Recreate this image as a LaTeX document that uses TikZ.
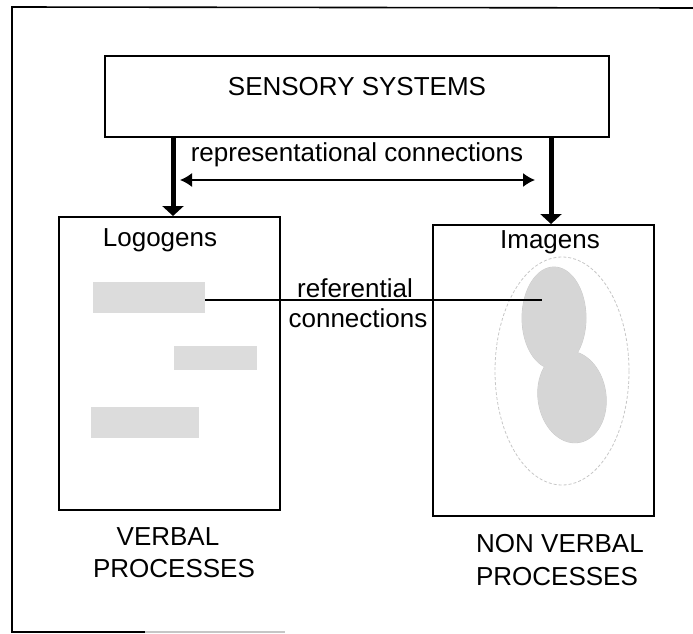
\documentclass[tikz,border=0pt]{standalone}
\usepackage{fontspec}
\setmainfont{Liberation Sans}
\usetikzlibrary{arrows.meta}
\definecolor{shade}{HTML}{DCDCDC}
\definecolor{blobgray}{HTML}{D6D6D6}
\definecolor{blobedge}{HTML}{C8C8C8}
\definecolor{halo}{HTML}{C6C6C6}
\begin{document}
\begin{tikzpicture}[x=1pt,y=-1pt,
  lbl/.style={font=\fontsize{26}{31}\selectfont, inner sep=0pt},
  box/.style={draw, line width=1.6pt, inner sep=0pt, anchor=north west},
  wordbar/.style={fill=shade, inner sep=0pt, anchor=north west},
  feed/.style={line width=5pt, -{Triangle[width=21pt,length=10pt]}},
  link/.style={line width=1.5pt, {Latex[width=14pt,length=12pt]}-{Latex[width=14pt,length=12pt]}},
  reflink/.style={line width=1.4pt}]
\useasboundingbox (0,0) rectangle (693,634);

% outer frame (open on the right)
\draw[line width=1.6pt] (693,8) -- (12,7) -- (12,632) -- (145,632);
\draw[line width=1.2pt, halo] (145,632) -- (285,632);

% sensory systems
\node[box, minimum width=504pt, minimum height=81pt] (sens) at (104,55) {};
\node[lbl] (senstext) at (357,87) {SENSORY SYSTEMS};

% verbal and non-verbal subsystems
\node[box, minimum width=221pt, minimum height=293pt] (verbal) at (58,216) {};
\node[box, minimum width=221pt, minimum height=291pt] (nonverbal) at (432,224) {};

% feed arrows
\coordinate (aL) at (173,0);
\coordinate (aR) at (551,0);
\draw[feed] (aL |- sens.south) -- (aL |- verbal.north);
\draw[feed] (aR |- sens.south) -- (aR |- nonverbal.north);

% representational connections
\coordinate (repL) at (180,180);
\coordinate (repR) at (535,180);
\draw[link] (repL) -- (repR);
\node[lbl] (replabel) at (357,155) {representational connections};

% logogens
\node[lbl] (logo) at (160,240) {Logogens};
\node[wordbar, minimum width=112pt, minimum height=31pt] (w1) at (93,282) {};
\node[wordbar, minimum width=83pt, minimum height=24pt] (w2) at (174,346) {};
\node[wordbar, minimum width=108pt, minimum height=31pt] (w3) at (91,407) {};

% imagens: a peanut-shaped image inside a faint halo
\node[lbl] (imag) at (550,242) {Imagens};
\draw[halo, line width=0.8pt, densely dashed] (562,371) ellipse [x radius=67, y radius=114];
\draw[blobedge, line width=0.8pt] (554,318) ellipse [x radius=32, y radius=51];
\draw[blobedge, line width=0.8pt, rotate around={8:(572,397)}] (572,397) ellipse [x radius=34, y radius=46];
\fill[blobgray] (554,318) ellipse [x radius=32, y radius=51];
\fill[blobgray, rotate around={8:(572,397)}] (572,397) ellipse [x radius=34, y radius=46];
\coordinate (img) at (542,300);

% referential connections
\draw[reflink] (w1.east |- img) -- (img);
\node[lbl] (ref1) at (355,288) {referential};
\node[lbl] (ref2) at (358,318) {connections};

% process labels
\node[lbl] (v1) at (168,537) {VERBAL};
\node[lbl] (v2) at (174,569) {PROCESSES};
\node[lbl] (n1) at (560,544) {NON VERBAL};
\node[lbl] (n2) at (557,577) {PROCESSES};
\end{tikzpicture}
\end{document}
